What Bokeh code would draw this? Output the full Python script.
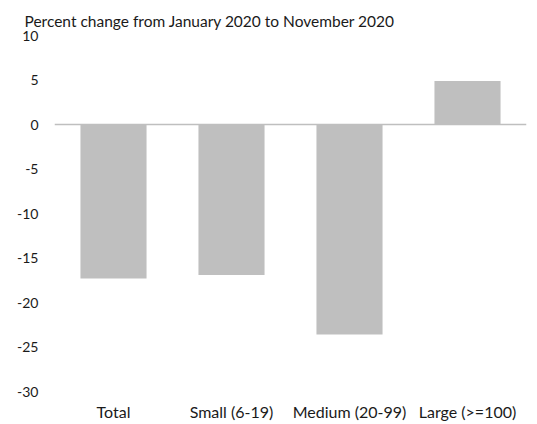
from bokeh.plotting import figure
from bokeh.models import Range1d, FixedTicker, Span, ColumnDataSource
from bokeh.embed import file_html
from bokeh.resources import INLINE

categories = ["Total", "Small (6-19)", "Medium (20-99)", "Large (>=100)"]
values = [-17.3, -16.9, -23.6, 4.9]
y_ticks = [10, 5, 0, -5, -10, -15, -20, -25, -30]
title_text = "Percent change from January 2020 to November 2020"

FONT = "Lato"
TEXT_COLOR = "#1a1a1a"
BAR_COLOR = "#BFBFBF"

src = ColumnDataSource(dict(cat=categories, val=values, base=[0] * len(values)))

p = figure(
    x_range=categories,
    y_range=Range1d(-30, 10),
    width=530,
    height=424,
    output_backend="svg",
    toolbar_location=None,
    min_border_left=54,
    min_border_right=4,
    min_border_top=35,
    min_border_bottom=33,
    outline_line_color=None,
    background_fill_color="white",
    border_fill_color="white",
)

p.title.text = title_text
p.title.align = "left"
p.title.offset = -30
p.title.text_font = FONT
p.title.text_font_size = "15.5px"
p.title.text_font_style = "normal"
p.title.text_color = TEXT_COLOR
p.title.standoff = 12

p.vbar(x="cat", top="val", bottom="base", width=0.56, source=src,
       fill_color=BAR_COLOR, line_color=None)

p.add_layout(Span(location=0, dimension="width", line_color=BAR_COLOR, line_width=1.5))

p.xgrid.visible = False
p.ygrid.visible = False

p.yaxis.ticker = FixedTicker(ticks=y_ticks)
p.yaxis.major_label_overrides = {t: str(t) for t in y_ticks}
p.yaxis.axis_line_color = None
p.yaxis.major_tick_line_color = None
p.yaxis.minor_tick_line_color = None
p.yaxis.major_tick_out = 0
p.yaxis.major_tick_in = 0
p.yaxis.minor_tick_out = 0
p.yaxis.major_label_standoff = 16
p.yaxis.major_label_text_font = FONT
p.yaxis.major_label_text_font_size = "14px"
p.yaxis.major_label_text_color = TEXT_COLOR

p.xaxis.axis_line_color = None
p.xaxis.major_tick_line_color = None
p.xaxis.minor_tick_line_color = None
p.xaxis.major_tick_out = 0
p.xaxis.major_tick_in = 0
p.xaxis.major_label_standoff = 10
p.xaxis.major_label_text_font = FONT
p.xaxis.major_label_text_font_size = "16px"
p.xaxis.major_label_text_color = TEXT_COLOR

p.x_range.range_padding = 0

open("out.html", "w").write(file_html(p, INLINE))
